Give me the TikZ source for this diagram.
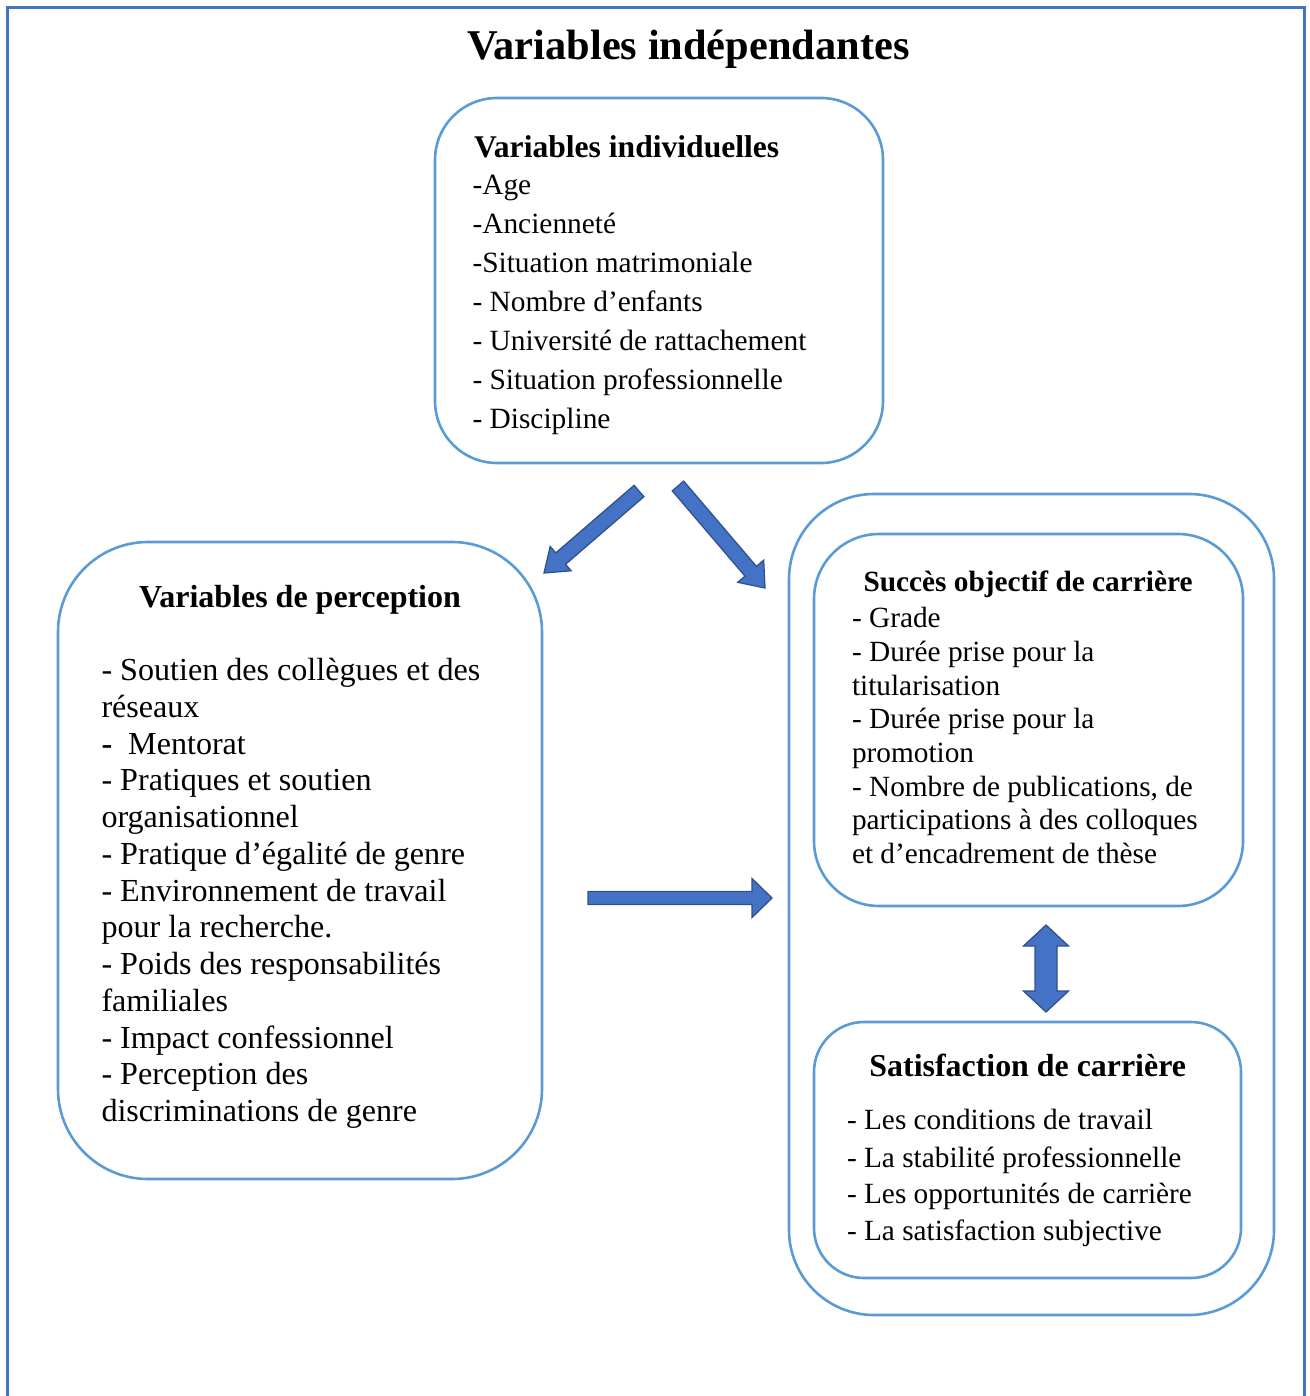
\documentclass[tikz,border=0pt]{standalone}
\usepackage{fontspec}
\setmainfont{Liberation Serif}
\usetikzlibrary{calc}
\definecolor{boxblue}{HTML}{5B9BD5}
\definecolor{framblue}{HTML}{4472C4}
\definecolor{arrfill}{HTML}{4472C4}
\definecolor{arredge}{HTML}{2F528F}
\newcommand\blkarrow[5]{% start, end, half shaft, half head, head length
  \path ($(#2)!#5!(#1)$) coordinate (hb);
  \draw[blockarrow] ($(#1)!#3!90:(#2)$) -- ($(hb)!#3!90:(#2)$) -- ($(hb)!#4!90:(#2)$) -- (#2)
    -- ($(hb)!#4!-90:(#2)$) -- ($(hb)!#3!-90:(#2)$) -- ($(#1)!#3!-90:(#2)$) -- cycle;}
\newcommand\dblarrow[5]{% tip A, tip B, half shaft, half head, head length
  \path ($(#1)!#5!(#2)$) coordinate (hA) ($(#2)!#5!(#1)$) coordinate (hB);
  \draw[blockarrow] (#1) -- ($(hA)!#4!90:(#2)$) -- ($(hA)!#3!90:(#2)$) -- ($(hB)!#3!-90:(#1)$)
    -- ($(hB)!#4!-90:(#1)$) -- (#2) -- ($(hB)!#4!90:(#1)$) -- ($(hB)!#3!90:(#1)$)
    -- ($(hA)!#3!-90:(#2)$) -- ($(hA)!#4!-90:(#2)$) -- cycle;}
\begin{document}
\begin{tikzpicture}[x=1pt,y=-1pt,
  box/.style={draw=boxblue, line width=2.6pt, inner sep=0pt, outer sep=0pt},
  frameline/.style={draw=framblue, line width=3pt},
  blockarrow/.style={fill=arrfill, draw=arredge, line width=1.3pt, line join=miter},
  txt/.style={inner sep=0pt, outer sep=0pt, anchor=base west},
  ttl/.style={inner sep=0pt, outer sep=0pt, anchor=base}]
\useasboundingbox (0,0) rectangle (1309,1396);
% outer frame (open at bottom)
\draw[frameline] (7,1396) -- (7,8) -- (1304,8) -- (1304,1396);
% title
\node[ttl, font=\fontsize{42.4}{48}\selectfont\bfseries] (title) at (688.3,60) {Variables indépendantes};
% boxes
\node[box, minimum width=448, minimum height=365, rounded corners=62] (ind) at (659,280.5) {};
\node[box, minimum width=484, minimum height=637, rounded corners=90] (perc) at (300,860.5) {};
\node[box, minimum width=485, minimum height=821, rounded corners=85] (outer) at (1031.5,904.5) {};
\node[box, minimum width=429, minimum height=372, rounded corners=65] (succ) at (1028.5,720) {};
\node[box, minimum width=427, minimum height=256, rounded corners=50] (satf) at (1027.5,1150) {};
% individual variables
\node[txt, font=\fontsize{31.6}{36}\selectfont\bfseries] (indh) at (474,158) {Variables individuelles};
\foreach \t [count=\i from 0] in {{-Age},{-Ancienneté},{-Situation matrimoniale},{- Nombre d’enfants},{- Université de rattachement},{- Situation professionnelle},{- Discipline}}
  \node[txt, font=\fontsize{29.4}{34}\selectfont] (ind\i) at (472.5,{194.8+38.9*\i}) {\t};
% perception variables
\node[ttl, font=\fontsize{32}{36}\selectfont\bfseries] (perch) at (300,607) {Variables de perception};
\foreach \t [count=\i from 0] in {{- Soutien des collègues et des},{réseaux},{{\bfseries -}\ \ Mentorat},{- Pratiques et soutien},{organisationnel},{- Pratique d’égalité de genre},{- Environnement de travail},{pour la recherche.},{- Poids des responsabilités},{familiales},{- Impact confessionnel},{- Perception des},{discriminations de genre}}
  \node[txt, font=\fontsize{32.1}{37}\selectfont] (perc\i) at (101.5,{680.5+36.75*\i}) {\t};
% objective success
\node[ttl, font=\fontsize{29.3}{34}\selectfont\bfseries] (succh) at (1028,591) {Succès objectif de carrière};
\foreach \t [count=\i from 0] in {{- Grade},{- Durée prise pour la},{titularisation},{- Durée prise pour la},{promotion},{- Nombre de publications, de},{participations à des colloques},{et d’encadrement de thèse}}
  \node[txt, font=\fontsize{29.3}{34}\selectfont] (succ\i) at (852,{627.7+33.7*\i}) {\t};
% career satisfaction
\node[ttl, font=\fontsize{31.9}{36}\selectfont\bfseries] (satfh) at (1027.7,1076) {Satisfaction de carrière};
\node[txt, font=\fontsize{29.3}{33}\selectfont] (satf0) at (847,1129) {- Les conditions de travail};
\node[txt, font=\fontsize{29.3}{33}\selectfont] (satf1) at (847,1167.5) {- La stabilité professionnelle};
\node[txt, font=\fontsize{29.3}{33}\selectfont] (satf2) at (847,1203.5) {- Les opportunités de carrière};
\node[txt, font=\fontsize{29.3}{33}\selectfont] (satf3) at (847,1240) {- La satisfaction subjective};
% block arrows
\coordinate (a1s) at (639,491);  \coordinate (a1e) at (544,573);
\coordinate (a2s) at (678,486);  \coordinate (a2e) at (765,588);
\coordinate (a3s) at (588,898);  \coordinate (a3e) at (772,898);
\coordinate (a4t) at (1046,925); \coordinate (a4b) at (1046,1012);
\blkarrow{a1s}{a1e}{7.5pt}{16pt}{22pt}
\blkarrow{a2s}{a2e}{7.5pt}{17pt}{22pt}
\blkarrow{a3s}{a3e}{6.5pt}{19.5pt}{20pt}
\dblarrow{a4t}{a4b}{11pt}{22.5pt}{21pt}
\end{tikzpicture}
\end{document}
